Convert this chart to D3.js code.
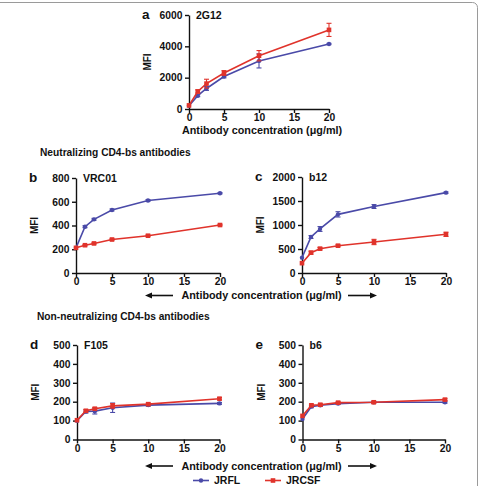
<!DOCTYPE html>
<html><head><meta charset="utf-8">
<script src="https://cdn.jsdelivr.net/npm/d3@7"></script>
<style>
body{margin:0;background:#fff;}
svg{display:block;font-family:"Liberation Sans",Arial,sans-serif;font-weight:bold;}
</style></head><body>
<svg id="chart" width="483" height="486"></svg>
<script>
// ---- data ----
const conc = [0, 1.25, 2.5, 5, 10, 20];
const xTicks = [0, 5, 10, 15, 20];
const seriesNames = ["JRFL", "JRCSF"];

const panelIds = ["a", "b", "c", "d", "e"];
const panelTitles = ["2G12", "VRC01", "b12", "F105", "b6"];
const yMax = [6000, 800, 2000, 500, 500];
const yStep = [2000, 200, 500, 100, 100];

const jrflA = [210, 850, 1310, 2070, 3070, 4150];
const jrflAErr = [0, 60, 120, 80, 450, 40];
const jrcsfA = [230, 1120, 1620, 2300, 3400, 5050];
const jrcsfAErr = [0, 100, 280, 150, 330, 420];

const jrflB = [212, 390, 452, 531, 610, 672];
const jrflBErr = [0, 8, 8, 8, 8, 6];
const jrcsfB = [212, 234, 249, 282, 314, 404];
const jrcsfBErr = [0, 6, 6, 6, 6, 6];

const jrflC = [320, 750, 917, 1222, 1385, 1674];
const jrflCErr = [0, 30, 50, 55, 40, 15];
const jrcsfC = [205, 424, 507, 569, 646, 806];
const jrcsfCErr = [0, 30, 25, 20, 55, 45];

const jrflD = [99, 148, 150, 168, 182, 191];
const jrflDErr = [0, 8, 15, 25, 6, 5];
const jrcsfD = [102, 152, 163, 178, 187, 216];
const jrcsfDErr = [0, 6, 6, 12, 6, 6];

const jrflE = [108, 174, 181, 190, 197, 197];
const jrflEErr = [0, 6, 6, 5, 5, 5];
const jrcsfE = [125, 181, 184, 195, 197, 211];
const jrcsfEErr = [0, 6, 5, 5, 5, 5];

const panelData = [
  [[jrflA, jrflAErr], [jrcsfA, jrcsfAErr]],
  [[jrflB, jrflBErr], [jrcsfB, jrcsfBErr]],
  [[jrflC, jrflCErr], [jrcsfC, jrcsfCErr]],
  [[jrflD, jrflDErr], [jrcsfD, jrcsfDErr]],
  [[jrflE, jrflEErr], [jrcsfE, jrcsfEErr]]
];

const sectionTitles = ["Neutralizing CD4-bs antibodies", "Non-neutralizing CD4-bs antibodies"];
const xTitle = "Antibody concentration (\u03bcg/ml)";

// ---- layout / style ----
const colors = ["#4a4aa8", "#e0332b"];
const layout = [
  {x0: 189, x1: 329, yt: 15, yb: 109},
  {x0: 76, x1: 220, yt: 178, yb: 273},
  {x0: 302, x1: 446, yt: 177, yb: 273},
  {x0: 77, x1: 219.5, yt: 345, yb: 439.5},
  {x0: 302.5, x1: 445, yt: 345, yb: 439.5}
];

const svg = d3.select("#chart");

// frame
svg.append("rect").attr("x", -6).attr("y", 2.5).attr("width", 483.5).attr("height", 500)
  .attr("rx", 5).attr("fill", "none").attr("stroke", "#9a9a9a").attr("stroke-width", 1);

panelIds.forEach((id, i) => {
  const L = layout[i];
  const x = d3.scaleLinear().domain([0, 20]).range([L.x0, L.x1]);
  const y = d3.scaleLinear().domain([0, yMax[i]]).range([L.yb, L.yt]);
  const g = svg.append("g");

  const xAx = g.append("g").attr("transform", `translate(0,${L.yb})`)
    .call(d3.axisBottom(x).tickValues(xTicks).tickFormat(d3.format("d")).tickSize(4).tickSizeOuter(0).tickPadding(1));
  const yAx = g.append("g").attr("transform", `translate(${L.x0},0)`)
    .call(d3.axisLeft(y).tickValues(d3.range(0, yMax[i] + 1, yStep[i])).tickFormat(d3.format("d")).tickSize(4).tickSizeOuter(0).tickPadding(2.5));
  [xAx, yAx].forEach(a => {
    a.select(".domain").attr("stroke", "#111").attr("stroke-width", 1.4);
    a.selectAll(".tick line").attr("stroke", "#111").attr("stroke-width", 1.4);
    a.selectAll("text").attr("fill", "#111").attr("font-size", 10.3).attr("font-weight", "bold")
      .attr("font-family", "'Liberation Sans',Arial,sans-serif");
  });

  // labels
  g.append("text").attr("x", L.x0 - 47).attr("y", L.yt + 4).attr("font-size", 13.5)
    .attr("fill", "#111").text(id);
  g.append("text").attr("x", L.x0 + 7).attr("y", L.yt + 4).attr("font-size", 10.5)
    .attr("fill", "#111").text(panelTitles[i]);
  g.append("text").attr("transform", `translate(${L.x0 - 38},${(L.yt + L.yb) / 2}) rotate(-90)`)
    .attr("text-anchor", "middle").attr("font-size", 10).attr("fill", "#111").text("MFI");

  panelData[i].forEach((s, k) => {
    const vals = s[0], errs = s[1];
    const pts = conc.map((c, j) => ({c, v: vals[j], e: errs[j]}));
    g.append("path").datum(pts)
      .attr("d", d3.line().x(d => x(d.c)).y(d => y(d.v)))
      .attr("fill", "none").attr("stroke", colors[k]).attr("stroke-width", 1.6);
    pts.filter(d => d.e > 0).forEach(d => {
      const cx = x(d.c), y1 = y(d.v - d.e), y2 = y(d.v + d.e);
      g.append("line").attr("x1", cx).attr("x2", cx).attr("y1", y1).attr("y2", y2)
        .attr("stroke", colors[k]).attr("stroke-width", 1.1);
      [y1, y2].forEach(yy => g.append("line").attr("x1", cx - 2.5).attr("x2", cx + 2.5)
        .attr("y1", yy).attr("y2", yy).attr("stroke", colors[k]).attr("stroke-width", 1.1));
    });
    if (k === 0) {
      g.selectAll(null).data(pts).enter().append("circle")
        .attr("cx", d => x(d.c)).attr("cy", d => y(d.v)).attr("r", 2.2).attr("fill", colors[k]);
    } else {
      g.selectAll(null).data(pts).enter().append("rect")
        .attr("x", d => x(d.c) - 2.3).attr("y", d => y(d.v) - 2.3)
        .attr("width", 4.6).attr("height", 4.6).attr("fill", colors[k]);
    }
  });
});

// panel a x title
svg.append("text").attr("x", 262).attr("y", 134).attr("text-anchor", "middle")
  .attr("font-size", 10.8).attr("fill", "#111").text(xTitle);

// section titles
svg.append("text").attr("x", 40).attr("y", 156).attr("font-size", 10.2).attr("fill", "#111").text(sectionTitles[0]);
svg.append("text").attr("x", 37).attr("y", 320).attr("font-size", 10.2).attr("fill", "#111").text(sectionTitles[1]);

// shared x titles with arrows
function arrowTitle(cy) {
  svg.append("text").attr("x", 261.5).attr("y", cy + 3.8).attr("text-anchor", "middle")
    .attr("font-size", 10.8).attr("fill", "#111").text(xTitle);
  // left arrow
  svg.append("line").attr("x1", 148).attr("x2", 173).attr("y1", cy).attr("y2", cy).attr("stroke", "#111").attr("stroke-width", 1.6);
  svg.append("path").attr("d", `M145,${cy} L152,${cy - 3} L152,${cy + 3} Z`).attr("fill", "#111");
  // right arrow
  svg.append("line").attr("x1", 348).attr("x2", 374).attr("y1", cy).attr("y2", cy).attr("stroke", "#111").attr("stroke-width", 1.6);
  svg.append("path").attr("d", `M377,${cy} L370,${cy - 3} L370,${cy + 3} Z`).attr("fill", "#111");
}
arrowTitle(295.5);
arrowTitle(466);

// legend
const legX = [193, 265];
seriesNames.forEach((n, k) => {
  const lx = legX[k], ly = 480.5;
  svg.append("line").attr("x1", lx).attr("x2", lx + 16).attr("y1", ly).attr("y2", ly)
    .attr("stroke", colors[k]).attr("stroke-width", 1.6);
  if (k === 0) svg.append("circle").attr("cx", lx + 8).attr("cy", ly).attr("r", 2.2).attr("fill", colors[k]);
  else svg.append("rect").attr("x", lx + 5.7).attr("y", ly - 2.3).attr("width", 4.6).attr("height", 4.6).attr("fill", colors[k]);
  svg.append("text").attr("x", lx + 21).attr("y", ly + 3.8).attr("font-size", 10.5).attr("fill", "#111").text(n);
});
</script>
</body></html>
